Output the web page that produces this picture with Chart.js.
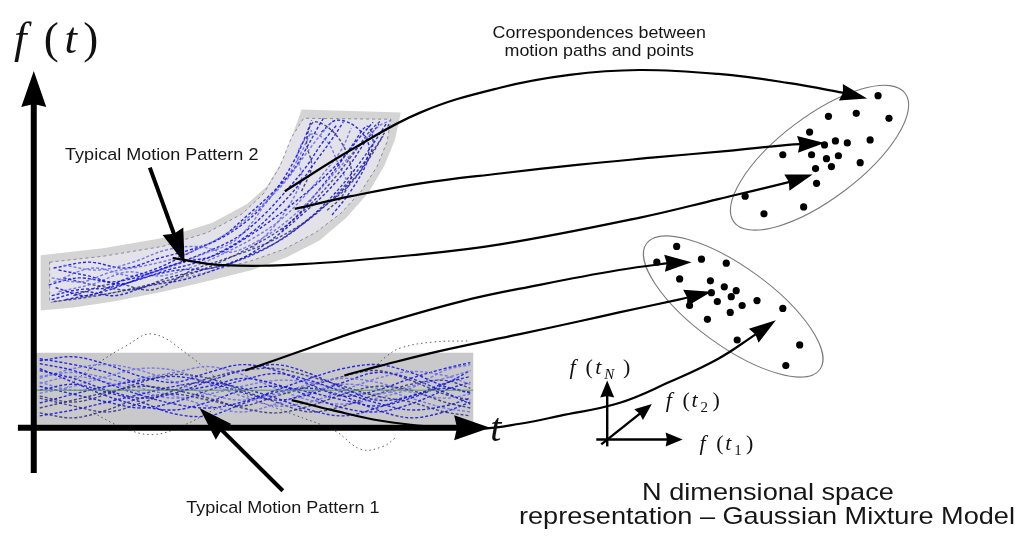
<!DOCTYPE html>
<html><head><meta charset="utf-8">
<script src="https://cdn.jsdelivr.net/npm/chart.js@4.4.0/dist/chart.umd.min.js"></script>
<style>html,body{margin:0;padding:0;background:#fff;overflow:hidden}#c{display:block}</style>
</head><body>
<canvas id="c" width="1016" height="544"></canvas>
<script>
// ================= DATA =================
// Feature-space points (each motion path mapped to one point)
const clusterUpper = [[881,93],[831,114],[859,111],[892,116],[812,130],[838,139],[850,141],[873,138],[827,143],[785,153],[814,153],[829,157],[841,154],[834,165],[818,167],[863,161],[819,182],[747,195],[806,206],[766,213]];
const clusterLower = [[678,246],[658,262],[703,259],[728,263],[681,279],[712,281],[726,287],[738,291],[713,293],[733,297],[719,302],[759,301],[691,306],[744,306],[732,313],[785,309],[709,320],[739,341],[802,346],[788,367]];

// Gaussian mixture components: mean, semi-axes, orientation (deg)
const gmmMeans  = [[822,156],[735,307]];
const gmmAxes   = [[108,42],[108,40]];
const gmmAngles = [-37, 36];

// Motion pattern 1: time samples and trajectories f(t)
const pattern1T = [36,70,104,138,172,206,240,274,308,342,376,410,444,470];
const pattern1Paths = [
  [372,380,392,400,395,383,372,366,375,390,402,398,385,378],
  [395,388,378,370,372,385,398,408,404,392,380,373,377,386],
  [410,402,394,388,392,400,410,415,408,396,388,392,404,410],
  [365,372,385,397,406,410,404,392,380,370,366,374,388,395],
  [388,396,404,410,404,392,382,375,382,394,405,412,408,400],
  [380,370,366,372,384,396,402,396,386,380,384,394,400,396],
  [400,408,414,405,392,380,372,370,378,388,398,404,414,418],
  [360,366,374,386,392,388,380,386,398,410,414,406,392,384],
  [418,412,404,396,388,384,390,400,412,418,410,398,390,394],
  [385,378,384,394,400,396,388,382,384,392,396,388,380,372],
  [398,404,396,384,376,380,392,404,414,408,396,386,382,390],
  [370,384,398,408,412,404,392,388,394,402,408,400,386,372],
  [405,396,388,382,378,384,394,402,396,384,374,380,394,406],
  [378,374,380,390,398,408,414,406,394,386,390,400,410,414],
  [415,420,412,400,396,402,408,398,388,378,372,382,396,402],
  [362,358,366,378,384,374,366,372,386,398,392,380,370,364],
  [392,386,394,404,416,418,406,394,390,398,412,420,414,404],
  [384,392,388,380,374,368,376,390,402,406,400,390,372,366]
];
const pattern1Outliers = [
  [[60,392],[90,368],[123,347],[150,335],[187,357],[215,380],[250,400],[290,416],[333,433],[360,452],[382,449],[395,440]],
  [[90,415],[120,430],[150,437],[180,428],[215,410]],
  [[370,372],[385,358],[400,349],[433,343],[467,342]]
];
const pattern1Mean = [[32,392],[473,392]];

// Motion pattern 2 trajectories
const pattern2Paths = [
  [[48,296],[75,290],[105,288],[135,280],[165,270],[195,262],[225,248],[252,230],[275,208],[296,185],[314,160],[330,138],[342,120]],
  [[48,278],[78,282],[108,272],[140,266],[172,258],[205,244],[232,228],[258,206],[282,182],[300,158],[318,134],[332,118]],
  [[50,302],[82,298],[115,292],[150,284],[185,275],[218,262],[250,246],[280,228],[308,204],[332,178],[352,152],[368,130],[380,118]],
  [[55,270],[85,276],[118,284],[150,272],[180,262],[210,256],[240,240],[266,222],[292,202],[318,180],[340,158],[358,136],[372,120]],
  [[52,288],[85,296],[120,280],[155,268],[188,252],[220,236],[246,214],[270,192],[292,168],[305,146],[316,126],[322,116]],
  [[60,265],[95,270],[130,262],[162,250],[195,246],[228,252],[260,238],[288,218],[315,192],[338,166],[360,142],[378,124],[390,118]],
  [[300,190],[310,165],[305,140],[312,120],[330,128],[345,150],[350,175],[340,196],[325,210]],
  [[320,130],[335,118],[355,125],[368,145],[360,168],[345,185],[330,200]],
  [[62,300],[100,292],[140,278],[176,270],[210,268],[245,256],[278,240],[305,220],[330,196],[352,170],[372,142],[385,122]],
  [[50,282],[90,268],[130,276],[170,266],[200,254],[230,242],[250,222],[265,200],[285,176],[300,150],[310,128]],
  [[70,296],[110,284],[150,290],[190,270],[225,258],[262,244],[296,226],[322,206],[346,186],[366,160],[382,134]],
  [[45,285],[75,278],[110,282],[145,274],[178,262],[208,250],[236,236],[262,214],[284,190],[304,166],[320,142],[336,122]],
  [[48,300],[80,292],[112,296],[146,286],[180,280],[212,270],[244,256],[274,236],[300,214],[326,190],[348,164],[364,140],[378,122]],
  [[55,292],[90,284],[124,272],[158,276],[192,266],[224,252],[254,236],[280,218],[302,196],[322,172],[340,148],[350,126]],
  [[60,278],[95,286],[130,290],[165,278],[200,270],[232,262],[264,248],[292,230],[318,210],[342,186],[362,162],[378,140],[388,122]],
  [[50,268],[86,262],[122,268],[156,258],[186,250],[214,240],[240,224],[262,204],[280,180],[294,156],[304,134],[310,118]],
  [[280,230],[300,210],[318,188],[336,165],[352,142],[366,124],[372,140],[364,165],[348,192],[330,215]],
  [[250,248],[272,226],[290,200],[300,176],[296,152],[310,132],[326,140],[336,160],[345,178]]
];

// Pattern regions
const band1 = [[32,354],[473,354],[473,427],[32,427]];
const band2Outer = [[37,255],[100,248],[163,237],[210,222],[245,203],[265,185],[280,160],[290,135],[300,107],[400,110],[394,138],[383,165],[367,192],[345,217],[318,240],[285,257],[250,270],[210,280],[160,292],[110,302],[70,308],[37,311]];
const band2Inner = [[46,262],[100,256],[160,246],[205,232],[240,213],[262,192],[278,165],[290,135],[302,116],[390,117],[386,140],[376,165],[360,190],[340,212],[314,232],[282,249],[248,261],[208,271],[160,283],[110,293],[70,299],[46,303]];

// Correspondence arrows (path -> point)
const corrArrows = [
  [[283,190],[350,148],[420,110],[500,85],[570,72],[640,67],[720,71],[790,80],[845,90],[870,96]],
  [[293,208],[350,195],[420,182],[500,172],[580,163],[653,156],[730,149],[790,143],[827,141]],
  [[170,258],[220,265],[300,264],[410,255],[500,244],[640,217],[720,198],[790,181],[815,173]],
  [[243,372],[300,352],[360,331],[460,302],[540,285],[620,270],[670,263],[693,262]],
  [[343,377],[380,367],[440,352],[520,335],[580,322],[620,313],[680,300],[713,292]],
  [[290,402],[330,412],[380,423],[430,429],[480,431],[520,426],[560,418],[620,405],[670,384],[720,360],[758,335],[778,321]]
];
const labelArrows = [[[281,494],[197,410]], [[147,166],[182,263]]];
const mainAxes = [[[30,476],[30,68]], [[14,430],[490,430]]];
const featAxes = [[[608,449],[608,382]], [[597,442],[684,442]], [[602,447],[653,406]]];

// Text
const sansLabels = [
  {text:'Correspondences between', at:[600,35], size:17, sx:1.05},
  {text:'motion paths and points', at:[600,53], size:17, sx:1.05},
  {text:'Typical Motion Pattern 2', at:[159,158], size:17, sx:1.06},
  {text:'Typical Motion Pattern 1', at:[281,517], size:17, sx:1.06},
  {text:'N dimensional space', at:[770,503], size:24, sx:1.13},
  {text:'representation \u2013 Gaussian Mixture Model', at:[769,528], size:24, sx:1.13}
];
// math labels: [glyph, style(i=italic,n=normal), x, dy, sizeFactor]
const mathLabels = [
  {base:[0,50], size:45, parts:[['f','i',10,0,1],['(','n',40,0,1],['t','i',61,0,1],[')','n',80,0,1]]},
  {base:[0,444], size:40, parts:[['t','i',490,0,1]]},
  {base:[0,376], size:22, parts:[['f','i',570,0,1],['(','n',586,0,1],['t','i',596,0,1],['N','i',605,5,0.68],[')','n',624,0,1]]},
  {base:[0,409], size:22, parts:[['f','i',667,0,1],['(','n',684,0,1],['t','i',693,0,1],['2','n',702,5,0.68],[')','n',714,0,1]]},
  {base:[0,453], size:22, parts:[['f','i',701,0,1],['(','n',718,0,1],['t','i',727,0,1],['1','n',736,5,0.68],[')','n',748,0,1]]}
];

// ================= BUILD =================
const P = a => a.map(([x,y]) => ({x, y}));
function shortened(path, back){
  const n = path.length, a = path[n-2], b = path[n-1];
  const dx = b[0]-a[0], dy = b[1]-a[1], L = Math.hypot(dx,dy);
  const k = Math.min(back, L*0.9)/L;
  return path.slice(0,-1).concat([[b[0]-dx*k, b[1]-dy*k]]);
}
const datasets = [];
function lineDs(path, o){
  return Object.assign({data:P(path), showLine:true, pointRadius:0, borderColor:'#000', borderWidth:1, tension:0, fill:false, clip:false}, o);
}
function arrowDs(path, width, len, hw, tension, order){
  datasets.push(lineDs(shortened(path, len*0.6), {borderWidth:width, tension:tension, order:order,
    head:{from:path[path.length-2], tip:path[path.length-1], len:len, hw:hw}}));
}
const blues = ['rgba(25,25,215,0.9)','rgba(110,110,235,0.9)','rgba(35,35,120,0.8)','rgba(20,20,235,0.9)'];
// pattern 1
pattern1Paths.forEach((ys,k) => {
  datasets.push(lineDs(pattern1T.map((t,i)=>[t,ys[i]]), {borderColor: blues[k%4], borderWidth:1.4, borderDash:[3,2], tension:0.35, order:6}));
});
pattern1Outliers.forEach(p => datasets.push(lineDs(p, {borderColor:'rgba(40,40,60,0.75)', borderWidth:1, borderDash:[1.5,3], tension:0.4, order:7})));
datasets.push(lineDs(pattern1Mean, {borderColor:'rgba(90,150,90,0.9)', borderWidth:1, order:5}));
// pattern 2
pattern2Paths.forEach((p,k) => {
  datasets.push(lineDs(p, {borderColor: blues[k%4], borderWidth:1.4, borderDash:[3,2], tension:0.35, order:6}));
});
// arrows
corrArrows.forEach(p => arrowDs(p, 2.2, 27, 8.5, 0.4, 2));
labelArrows.forEach(p => arrowDs(p, 4, 34, 11, 0, 1));
mainAxes.forEach(p => arrowDs(p, 6, 36, 12.5, 0, 1));
featAxes.forEach(p => arrowDs(p, 2.4, 17, 7, 0, 1));
// points
datasets.push({data:P(clusterUpper.concat(clusterLower)), pointRadius:3.6, pointBackgroundColor:'#000', pointBorderWidth:0, showLine:false, order:0, clip:false});

// ================= PLUGINS =================
const px = (c, p) => [c.scales.x.getPixelForValue(p[0]), c.scales.y.getPixelForValue(p[1])];
function poly(ctx, c, pts){
  ctx.beginPath();
  pts.forEach((p,i)=>{const q=px(c,p); i?ctx.lineTo(q[0],q[1]):ctx.moveTo(q[0],q[1]);});
  ctx.closePath();
}
const diagramPlugin = {
  id:'diagram',
  beforeDatasetsDraw(c){
    const ctx = c.ctx;
    ctx.save();
    poly(ctx,c,band1); ctx.fillStyle='#c9c9cb'; ctx.fill();
    poly(ctx,c,band2Outer); ctx.fillStyle='#d4d4d4'; ctx.fill();
    poly(ctx,c,band2Inner); ctx.fillStyle='#e2e2e8'; ctx.fill();
    ctx.setLineDash([3,3]); ctx.strokeStyle='rgba(60,60,90,0.5)'; ctx.lineWidth=1; ctx.stroke();
    ctx.setLineDash([]);
    // GMM ellipses
    const sx = c.scales.x.getPixelForValue(1)-c.scales.x.getPixelForValue(0);
    const sy = Math.abs(c.scales.y.getPixelForValue(1)-c.scales.y.getPixelForValue(0));
    gmmMeans.forEach((m,i)=>{
      const q = px(c,m);
      ctx.beginPath();
      ctx.ellipse(q[0], q[1], gmmAxes[i][0]*sx, gmmAxes[i][1]*sy, gmmAngles[i]*Math.PI/180, 0, Math.PI*2);
      ctx.strokeStyle='#7a7a7a'; ctx.lineWidth=1.1; ctx.stroke();
    });
    ctx.restore();
  },
  afterDatasetsDraw(c){
    const ctx = c.ctx;
    ctx.save();
    c.data.datasets.forEach(ds=>{
      if(!ds.head) return;
      const a = px(c, ds.head.from), b = px(c, ds.head.tip);
      const ang = Math.atan2(b[1]-a[1], b[0]-a[0]);
      ctx.save(); ctx.translate(b[0], b[1]); ctx.rotate(ang);
      ctx.beginPath(); ctx.moveTo(0,0); ctx.lineTo(-ds.head.len, ds.head.hw); ctx.lineTo(-ds.head.len*0.92, 0); ctx.lineTo(-ds.head.len, -ds.head.hw); ctx.closePath();
      ctx.fillStyle='#000'; ctx.fill(); ctx.restore();
    });
    ctx.restore();
  },
  afterDraw(c){
    const ctx = c.ctx;
    ctx.save();
    ctx.fillStyle='#161616'; ctx.textAlign='center'; ctx.textBaseline='alphabetic';
    sansLabels.forEach(l=>{
      const q = px(c,l.at);
      ctx.save();
      ctx.translate(q[0], q[1]); ctx.scale(l.sx, 1);
      ctx.font = l.size+'px "Liberation Sans", Arial, sans-serif';
      ctx.fillText(l.text, 0, 0);
      ctx.restore();
    });
    ctx.textAlign='left'; ctx.fillStyle='#111';
    mathLabels.forEach(m=>{
      m.parts.forEach(([g,st,x,dy,f])=>{
        const q = px(c,[x, m.base[1]+dy]);
        ctx.font = (st==='i'?'italic ':'')+(m.size*f)+'px "Liberation Serif", "Times New Roman", serif';
        ctx.fillText(g, q[0], q[1]);
      });
    });
    ctx.restore();
  }
};

new Chart(document.getElementById('c'), {
  type:'scatter',
  data:{datasets},
  options:{
    responsive:false, animation:false, events:[],
    layout:{padding:0},
    plugins:{legend:{display:false}, tooltip:{enabled:false}},
    scales:{
      x:{type:'linear', min:0, max:1016, display:false},
      y:{type:'linear', min:0, max:544, reverse:true, display:false}
    }
  },
  plugins:[diagramPlugin]
});
</script>
</body></html>
